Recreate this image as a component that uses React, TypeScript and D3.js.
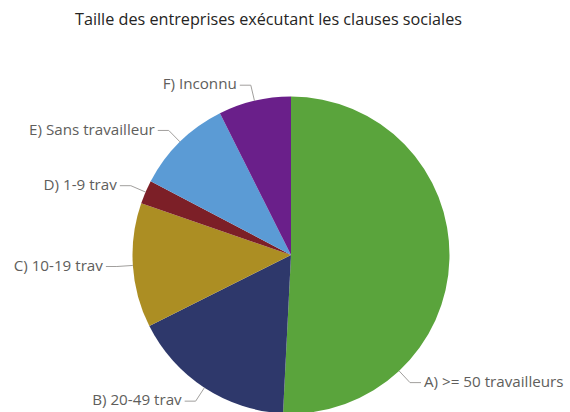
import * as d3 from 'd3';
import { useEffect, useRef } from 'react';

const width = 570;
const height = 412;

const categories = [
  'A) >= 50 travailleurs',
  'B) 20-49 trav',
  'C) 10-19 trav',
  'D) 1-9 trav',
  'E) Sans travailleur',
  'F) Inconnu',
];
const shares = [50.8, 16.8, 12.7, 2.4, 9.9, 7.4];
const colors = ['#5AA43C', '#2E386B', '#AC8E23', '#7C1F27', '#5B9BD5', '#6A1F8A'];
const title = 'Taille des entreprises exécutant les clauses sociales';

type Slice = { name: string; value: number; color: string };

function PieChart() {
  const ref = useRef<HTMLDivElement>(null);

  useEffect(() => {
    const wrapper = d3.select(ref.current);
    const data: Slice[] = categories.map((name, i) => ({
      name,
      value: shares[i],
      color: colors[i],
    }));

    const svg = wrapper
      .append('svg')
      .attr('width', width)
      .attr('height', height)
      .style('position', 'absolute')
      .style('left', 0)
      .style('top', 0);

    svg
      .append('text')
      .attr('x', 268.5)
      .attr('y', 21)
      .attr('text-anchor', 'middle')
      .attr('dominant-baseline', 'middle')
      .attr('font-family', 'Open Sans, sans-serif')
      .attr('font-size', 16.2)
      .attr('fill', '#252423')
      .text(title);

    const cx = 291;
    const cy = 255;
    const radius = 158.5;

    const pie = d3
      .pie<Slice>()
      .sort(null)
      .value((d) => d.value);
    const arcs = pie(data);
    const arc = d3.arc<d3.PieArcDatum<Slice>>().innerRadius(0).outerRadius(radius);

    const g = svg.append('g').attr('transform', `translate(${cx},${cy})`);

    g.selectAll('path')
      .data(arcs)
      .join('path')
      .attr('d', arc)
      .attr('fill', (d) => d.data.color);

    // the first label does not fit on the right, it is pushed down the rim
    const labelAngle = (d: d3.PieArcDatum<Slice>, i: number) =>
      i === 0 ? (137 * Math.PI) / 180 : (d.startAngle + d.endAngle) / 2;

    const labels = g.append('g');
    arcs.forEach((d, i) => {
      const a = labelAngle(d, i);
      const sx = Math.sin(a);
      const sy = -Math.cos(a);
      const p0 = [sx * radius, sy * radius];
      const p1 = [sx * (radius + 16), sy * (radius + 16)];
      const right = sx > 0;
      const p2 = [p1[0] + (right ? 11 : -11), p1[1]];
      labels
        .append('polyline')
        .attr('points', [p0, p1, p2].map((p) => p.join(',')).join(' '))
        .attr('fill', 'none')
        .attr('stroke', '#A19F9D')
        .attr('stroke-width', 1);
      labels
        .append('text')
        .attr('x', p2[0] + (right ? 3 : -3))
        .attr('y', p2[1])
        .attr('text-anchor', right ? 'start' : 'end')
        .attr('dominant-baseline', 'middle')
        .attr('font-family', 'Open Sans, sans-serif')
        .attr('font-size', 15.2)
        .attr('fill', '#605E5C')
        .text(d.data.name);
    });

    return () => {
      wrapper.select('svg').remove();
    };
  }, []);

  return <div ref={ref}></div>;
}

export default function App() {
  return <PieChart />;
}
